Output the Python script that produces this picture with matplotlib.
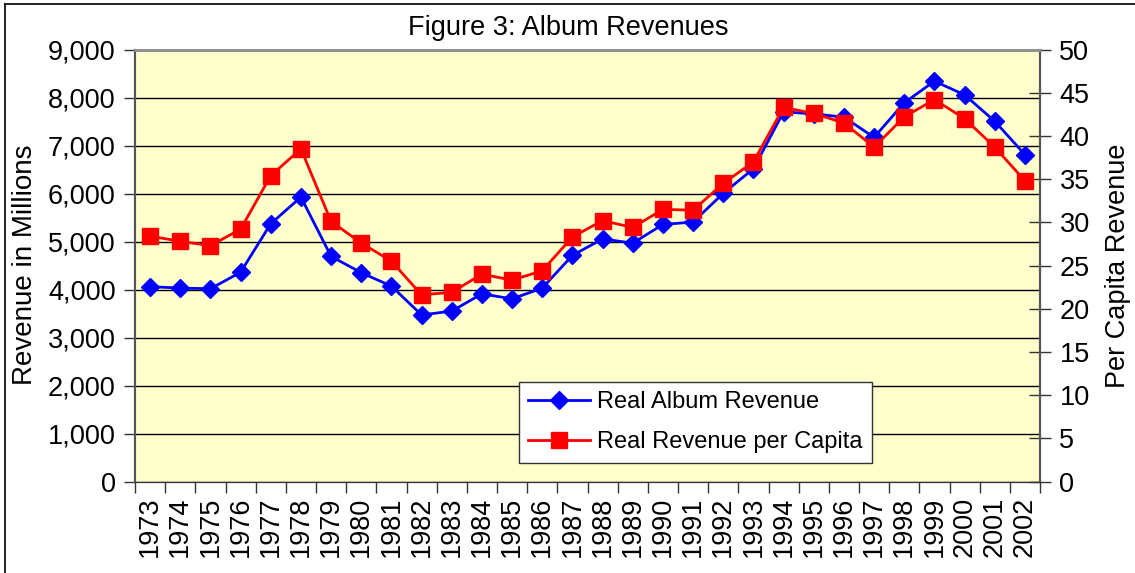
import numpy as np
import matplotlib
matplotlib.use('Agg')
from matplotlib import pyplot as plt
from matplotlib.lines import Line2D

plt.rcParams['font.family'] = ['Liberation Sans', 'DejaVu Sans']

# Data
years = [str(y) for y in range(1973, 2003)]
album_revenue = [4060, 4030, 4015, 4360, 5370, 5925, 4690, 4350, 4070, 3470,
                 3550, 3910, 3805, 4030, 4710, 5055, 4965, 5355, 5405, 6005,
                 6515, 7700, 7660, 7590, 7170, 7890, 8340, 8055, 7505, 6810]
per_capita = [28.4, 27.8, 27.3, 29.2, 35.4, 38.5, 30.1, 27.6, 25.5, 21.6,
              21.9, 24.0, 23.3, 24.4, 28.3, 30.2, 29.4, 31.5, 31.4, 34.5,
              37.0, 43.3, 42.6, 41.5, 38.7, 42.2, 44.2, 42.0, 38.7, 34.8]

W, H = 1135, 573
fig = plt.figure(figsize=(W / 100, H / 100), dpi=100)

# outer frame lines (only left and top are visible in the picture)
fig.add_artist(Line2D([5 / W, 5 / W], [0, 1 - 4 / H], color='black', lw=1.2))
fig.add_artist(Line2D([5 / W, 1], [1 - 4 / H, 1 - 4 / H], color='black', lw=1.2))

left, right, top, bottom = 135, 1040, 49.5, 481.5
ax = fig.add_axes([left / W, 1 - bottom / H, (right - left) / W, (bottom - top) / H])
ax.set_facecolor('#FFFFCC')
ax2 = ax.twinx()

x = np.arange(len(years))

ax.set_ylim(0, 9000)
ax.set_yticks(np.arange(0, 9001, 1000))
ax.set_yticklabels([f'{v:,}' for v in range(0, 9001, 1000)])
ax.grid(axis='y', color='black', lw=1.0)
ax.set_axisbelow(True)

ax.set_xlim(-0.5, len(years) - 0.5)
ax.set_xticks(x)
ax.set_xticklabels(years, rotation=90)
ax.set_xticks(np.arange(-0.5, len(years), 1), minor=True)
ax.tick_params(axis='x', which='major', length=0, pad=11, labelsize=19.5)
ax.tick_params(axis='x', which='minor', length=8, width=1, direction='out', color='#333333')
ax.tick_params(axis='y', length=8, width=1, direction='out', labelsize=19.5, pad=6, color='#333333')

ax2.set_ylim(0, 50)
ax2.set_yticks(np.arange(0, 51, 5))
ax2.tick_params(axis='y', length=16, width=1, direction='inout', labelsize=19.5, pad=6, color='#333333')

for a in (ax, ax2):
    a.spines['top'].set_color('#909090')
    a.spines['top'].set_linewidth(2)
    a.spines['left'].set_color('#555555')
    a.spines['right'].set_color('#555555')
    a.spines['left'].set_linewidth(1.5)
    a.spines['right'].set_linewidth(1.5)
    a.spines['bottom'].set_color('#333333')

ax.plot(x, album_revenue, color='#0000FF', lw=2, marker='D', markersize=9,
        markerfacecolor='#0000FF', markeredgecolor='#0000FF', label='Real Album Revenue', zorder=3)
ax2.plot(x, per_capita, color='#FF0000', lw=2, marker='s', markersize=11,
         markerfacecolor='#FF0000', markeredgecolor='#FF0000', label='Real Revenue per Capita', zorder=3)

ax.set_ylabel('Revenue in Millions', fontsize=20)
ax.yaxis.set_label_coords(25 / W, 0.5, transform=fig.transFigure)
ax2.set_ylabel('Per Capita Revenue', fontsize=19.5)
ax2.yaxis.set_label_coords(1118 / W, 0.5, transform=fig.transFigure)
ax.yaxis.label.set_va('center')
ax2.yaxis.label.set_va('center')
ax.yaxis.label.set_y(1 - 265 / H)
ax2.yaxis.label.set_y(1 - 266 / H)

fig.text(568 / W, 1 - 28 / H, 'Figure 3: Album Revenues', ha='center', va='center', fontsize=19.5)

handles = [ax.get_lines()[0], ax2.get_lines()[0]]
leg = ax2.legend(handles, [h.get_label() for h in handles], loc='upper left',
                 bbox_to_anchor=(519 / W, 1 - 382 / H), bbox_transform=fig.transFigure,
                 fontsize=17, frameon=True, fancybox=False, framealpha=1,
                 edgecolor='#333333', borderpad=0.4, labelspacing=0.75,
                 handlelength=2.6, handletextpad=0.3, borderaxespad=0)
leg.get_frame().set_linewidth(1)

fig.savefig('out.png', dpi=100)
